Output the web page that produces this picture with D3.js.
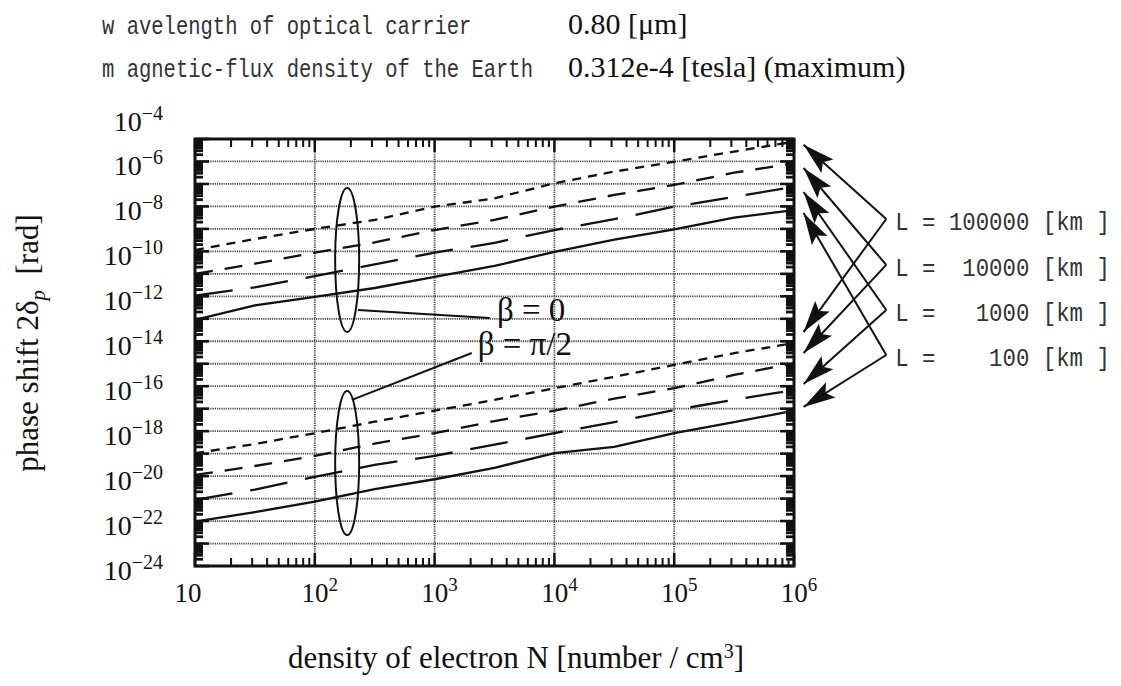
<!DOCTYPE html>
<meta charset="utf-8">
<script src="https://d3js.org/d3.v7.min.js"></script>
<style>
  body { margin: 0; background: #fff; }
  text { font-family: "Liberation Serif", "Times New Roman", serif; fill: #111; }
  .mono { font-family: "Liberation Mono", "Courier New", monospace; fill: #333; white-space: pre; }
  .grid line { stroke: #444; stroke-width: 1.8; stroke-dasharray: 1.2, 1; }
  .curve { fill: none; stroke: #111; stroke-width: 2.3; }
</style>
<svg id="chart"></svg>
<script>
// density of electron, log10(N) [number / cm3]
var logN = [1, 1.5, 2, 2.5, 3, 3.5, 4, 4.5, 5, 5.5, 6];

// log10 of phase shift 2*delta_p [rad], beta = 0
var beta0_L100    = [-13.05, -12.40, -12.02, -11.63, -11.13, -10.65, -10.02, -9.48, -9.02, -8.50, -8.16];
var beta0_L1000   = [-11.97, -11.60, -11.10, -10.58, -10.06, -9.62, -9.05, -8.57, -8.01, -7.58, -7.12];
var beta0_L10000  = [-11.00, -10.55, -10.06, -9.60, -9.05, -8.60, -8.01, -7.49, -7.04, -6.50, -6.08];
var beta0_L100000 = [-9.94, -9.45, -9.00, -8.60, -8.01, -7.64, -6.97, -6.45, -6.01, -5.56, -5.12];

// beta = pi/2
var beta90_L100    = [-22.03, -21.60, -21.14, -20.58, -20.14, -19.63, -18.98, -18.70, -18.09, -17.60, -17.09];
var beta90_L1000   = [-21.06, -20.60, -20.03, -19.50, -19.10, -18.60, -18.09, -17.60, -17.06, -16.60, -16.17];
var beta90_L10000  = [-19.95, -19.55, -19.10, -18.55, -18.09, -17.55, -17.09, -16.55, -16.09, -15.50, -14.98];
var beta90_L100000 = [-18.98, -18.57, -18.09, -17.58, -17.09, -16.61, -16.09, -15.58, -15.05, -14.53, -14.08];

var lengthsKm = ["100000", "10000", "1000", "100"];
var xTickExp = [1, 2, 3, 4, 5, 6];
var yTickExp = [-24, -22, -20, -18, -16, -14, -12, -10, -8, -6, -4];

var width = 1121, height = 686;

var svg = d3.select("#chart")
    .attr("width", width)
    .attr("height", height);

var x = d3.scaleLog().domain([10, 1e6]).range([195, 794]);
var y = d3.scaleLog().domain([1e-24, 1e-5]).range([566, 139]);
var x0 = x.range()[0], x1 = x.range()[1], y0 = y.range()[0], y1 = y.range()[1];

// dash pattern per distance L
var dashFor = { "100": null, "1000": "38,18", "10000": "18,12", "100000": "9,7" };

var series = [
    { L: "100",    v: beta0_L100 },
    { L: "1000",   v: beta0_L1000 },
    { L: "10000",  v: beta0_L10000 },
    { L: "100000", v: beta0_L100000 },
    { L: "100",    v: beta90_L100 },
    { L: "1000",   v: beta90_L1000 },
    { L: "10000",  v: beta90_L10000 },
    { L: "100000", v: beta90_L100000 }
];

// top info text (condensed mono on the left, values on the right)
var info = svg.append("g");
info.append("text").attr("class", "mono")
    .attr("transform", "translate(102,34) scale(0.79,1)")
    .attr("font-size", 26)
    .text("w avelength of optical carrier");
info.append("text").attr("class", "mono")
    .attr("transform", "translate(102,77) scale(0.79,1)")
    .attr("font-size", 26)
    .text("m agnetic-flux density of the Earth");
info.append("text")
    .attr("x", 568).attr("y", 34)
    .attr("font-size", 30)
    .text("0.80 [\u03bcm]");
info.append("text")
    .attr("x", 568).attr("y", 77)
    .attr("font-size", 30)
    .text("0.312e-4 [tesla] (maximum)");

// grid lines
var grid = svg.append("g").attr("class", "grid");
grid.selectAll(".gx")
    .data([1e2, 1e3, 1e4, 1e5])
    .enter().append("line")
    .attr("x1", d => x(d)).attr("x2", d => x(d))
    .attr("y1", y1).attr("y2", y0);
grid.selectAll(".gy")
    .data(d3.range(-23, -5).map(e => Math.pow(10, e)))
    .enter().append("line")
    .attr("x1", x0).attr("x2", x1)
    .attr("y1", d => y(d)).attr("y2", d => y(d));

// curves
var line = d3.line()
    .x(d => x(Math.pow(10, d[0])))
    .y(d => y(Math.pow(10, d[1])));

svg.append("g").selectAll("path")
    .data(series)
    .enter().append("path")
    .attr("class", "curve")
    .attr("d", d => line(logN.map((n, i) => [n, d.v[i]])))
    .attr("stroke-dasharray", d => dashFor[d.L]);

// frame
svg.append("rect")
    .attr("x", x0).attr("y", y1)
    .attr("width", x1 - x0).attr("height", y0 - y1)
    .attr("fill", "none").attr("stroke", "#111").attr("stroke-width", 3);

// ticks (drawn inward on all four sides)
var ticks = svg.append("g").attr("stroke", "#111");
var yMinor = [], yMajor = d3.range(-24, -4);
d3.range(-24, -5).forEach(function(e) {
    d3.range(2, 10).forEach(function(k) { yMinor.push(k * Math.pow(10, e)); });
});
var xMinor = [], xMajor = d3.range(1, 7);
d3.range(1, 6).forEach(function(e) {
    d3.range(2, 10).forEach(function(k) { xMinor.push(k * Math.pow(10, e)); });
});

[[x0, 1], [x1, -1]].forEach(function(side) {
    ticks.selectAll(null).data(yMinor).enter().append("line")
        .attr("x1", side[0]).attr("x2", side[0] + side[1] * 8)
        .attr("y1", d => y(d)).attr("y2", d => y(d))
        .attr("stroke-width", 2.8);
    ticks.selectAll(null).data(yMajor).enter().append("line")
        .attr("x1", side[0]).attr("x2", side[0] + side[1] * 14)
        .attr("y1", d => y(Math.pow(10, d))).attr("y2", d => y(Math.pow(10, d)))
        .attr("stroke-width", 2.6);
});
[[y0, -1], [y1, 1]].forEach(function(side) {
    ticks.selectAll(null).data(xMinor).enter().append("line")
        .attr("y1", side[0]).attr("y2", side[0] + side[1] * 8)
        .attr("x1", d => x(d)).attr("x2", d => x(d))
        .attr("stroke-width", 2);
    ticks.selectAll(null).data(xMajor).enter().append("line")
        .attr("y1", side[0]).attr("y2", side[0] + side[1] * 13)
        .attr("x1", d => x(Math.pow(10, d))).attr("x2", d => x(Math.pow(10, d)))
        .attr("stroke-width", 2.5);
});

// y tick labels
var yLab = svg.append("g").selectAll("text")
    .data(yTickExp)
    .enter().append("text")
    .attr("x", 163)
    .attr("y", d => y(Math.pow(10, d)) + 14)
    .attr("text-anchor", "end")
    .attr("font-size", 28);
yLab.append("tspan").text("10");
yLab.append("tspan").attr("dy", -11).attr("font-size", 20).text(d => "\u2212" + (-d));

// x tick labels
var xLab = svg.append("g").selectAll("text")
    .data(xTickExp)
    .enter().append("text")
    .attr("x", d => x(Math.pow(10, d)) + (d === 1 ? -7 : 5))
    .attr("y", 602)
    .attr("text-anchor", "middle")
    .attr("font-size", 27);
xLab.append("tspan").text("10");
xLab.append("tspan").attr("dy", -11).attr("font-size", 19).text(d => d === 1 ? "" : d);

// axis titles
svg.append("text")
    .attr("x", 516).attr("y", 668)
    .attr("text-anchor", "middle")
    .attr("font-size", 31)
    .html("density of electron N [number / cm<tspan dy='-10' font-size='20'>3</tspan><tspan dy='10'>]</tspan>");

var yt = svg.append("text")
    .attr("transform", "translate(38,343) rotate(-90)")
    .attr("text-anchor", "middle")
    .attr("font-size", 31);
yt.append("tspan").text("phase shift 2\u03b4");
yt.append("tspan").attr("dy", 7).attr("font-size", 21).attr("font-style", "italic").text("p");
yt.append("tspan").attr("dy", -7).text("\u00a0\u00a0[rad]");

// beta annotations: ellipses round each group and pointer lines
var note = svg.append("g").attr("fill", "none").attr("stroke", "#111").attr("stroke-width", 2);
[-10.38, -19.42].forEach(function(e) {
    note.append("ellipse")
        .attr("cx", x(Math.pow(10, 2.27))).attr("cy", y(Math.pow(10, e)))
        .attr("rx", 12).attr("ry", 72);
});
[[2.36, -12.61, 3.46, -12.96], [2.31, -16.61, 3.31, -14.52]].forEach(function(p) {
    note.append("line")
        .attr("x1", x(Math.pow(10, p[0]))).attr("y1", y(Math.pow(10, p[1])))
        .attr("x2", x(Math.pow(10, p[2]))).attr("y2", y(Math.pow(10, p[3])));
});
svg.append("text")
    .attr("x", x(Math.pow(10, 3.52))).attr("y", y(Math.pow(10, -13.12)))
    .attr("font-size", 33)
    .text("\u03b2 = 0");
svg.append("text")
    .attr("x", x(Math.pow(10, 3.36))).attr("y", y(Math.pow(10, -14.63)))
    .attr("font-size", 33)
    .text("\u03b2 = \u03c0/2");

// legend: arrows from each L label to the end of its curve in both groups
svg.append("defs").append("marker")
    .attr("id", "head")
    .attr("markerUnits", "userSpaceOnUse")
    .attr("markerWidth", 32).attr("markerHeight", 20)
    .attr("orient", "auto")
    .attr("overflow", "visible")
    .append("path")
    .attr("d", "M0,0 L-32,-9 L-26,0 L-32,9 Z")
    .attr("fill", "#111");

var vertexE = [-8.56, -10.60, -12.61, -14.61];
var upTipE = [-5.26, -6.29, -7.36, -8.29];
var lowTipE = [-13.59, -14.52, -15.90, -16.92];
var vx = x(Math.pow(10, 6.77)), tx = x(Math.pow(10, 6.08));

var legend = svg.append("g");
lengthsKm.forEach(function(L, i) {
    var vy = y(Math.pow(10, vertexE[i]));
    [upTipE[i], lowTipE[i]].forEach(function(t) {
        legend.append("line")
            .attr("x1", vx).attr("y1", vy)
            .attr("x2", tx).attr("y2", y(Math.pow(10, t)))
            .attr("stroke", "#111").attr("stroke-width", 2)
            .attr("marker-end", "url(#head)");
    });
    var pad = "      ".slice(L.length);
    legend.append("text").attr("class", "mono")
        .attr("transform", "translate(" + (vx + 9) + "," + (vy + 11) + ") scale(0.86,1)")
        .attr("font-size", 26)
        .text("L = " + pad + L + " [km ]");
});
</script>
